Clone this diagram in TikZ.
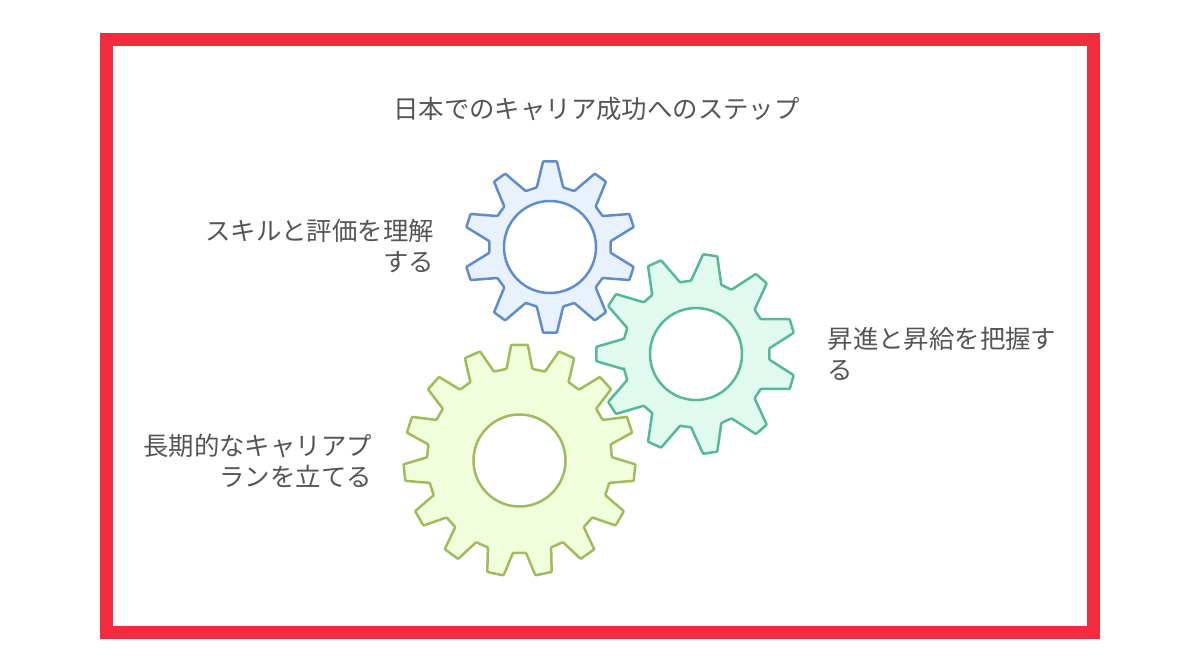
\documentclass[tikz,border=0pt]{standalone}
\usepackage{fontspec}
\setmainfont{Noto Sans CJK JP}
\definecolor{frame}{HTML}{F32B3F}
\definecolor{txt}{HTML}{555555}
\definecolor{bluel}{HTML}{5F8CCB}
\definecolor{bluef}{HTML}{E9F1FD}
\definecolor{greenl}{HTML}{55B995}
\definecolor{greenf}{HTML}{E0FAF0}
\definecolor{yell}{HTML}{A0BB5C}
\definecolor{yelf}{HTML}{F1FDDB}
\tikzset{
  label/.style={text=txt,font=\fontsize{25.4}{31}\selectfont,inner sep=0pt},
  gearline/.style={line width=2.5pt,line join=round,rounded corners=0.8pt}
}
% #1 line #2 fill #3 cx #4 cy #5 teeth #6 start angle #7 R outer #8 R base #9 half width at base
\newcommand{\mygear}[9]{%
  \pgfmathsetmacro{\stepang}{360/#5}
  \pgfmathtruncatemacro{\lastt}{#5-1}
  \draw[gearline,draw=#1,fill=#2]
    ([shift={(#3,#4)}]#6-#9:#8)
    \foreach \k in {0,...,\lastt}{
      \pgfextra{\pgfmathsetmacro{\aa}{#6+\k*\stepang}}
      -- ([shift={(#3,#4)}]\aa-#9:#8)
      -- ([shift={(#3,#4)}]\aa-\outerhalf:#7)
      -- ([shift={(#3,#4)}]\aa+\outerhalf:#7)
      -- ([shift={(#3,#4)}]\aa+#9:#8)
    } -- cycle;
}
\begin{document}
\begin{tikzpicture}[x=1pt,y=-1pt]
\useasboundingbox (0,0) rectangle (1200,672);
\fill[white] (0,0) rectangle (1200,672);
\draw[frame,line width=13pt] (106.5,39.5) rectangle (1093.5,632.5);
\def\outerhalf{4.6}
\mygear{bluel}{bluef}{550}{247}{10}{-90}{86}{61}{12.5}
\def\outerhalf{4.1}
\mygear{greenl}{greenf}{696}{354}{11}{180}{100}{73.5}{12}
\mygear{yell}{yelf}{519.5}{460.5}{15}{-90}{116}{92.5}{8}
\node[circle,draw=bluel,line width=2.5pt,fill=white,minimum size=92pt,inner sep=0pt] (h1) at (550,247) {};
\node[circle,draw=greenl,line width=2.5pt,fill=white,minimum size=92pt,inner sep=0pt] (h2) at (696,354) {};
\node[circle,draw=yell,line width=2.5pt,fill=white,minimum size=92pt,inner sep=0pt] (h3) at (519.5,460.5) {};
\node[label] (title) at (596.5,109) {日本でのキャリア成功へのステップ};
\node[label,align=right,anchor=east] (t1) at (434,246.5) {スキルと評価を理解\\する};
\node[label,align=left,anchor=west] (t2) at (827.5,353.5) {昇進と昇給を把握す\\る};
\node[label,align=right,anchor=east] (t3) at (372,460.5) {長期的なキャリアプ\\ランを立てる};
\end{tikzpicture}
\end{document}
